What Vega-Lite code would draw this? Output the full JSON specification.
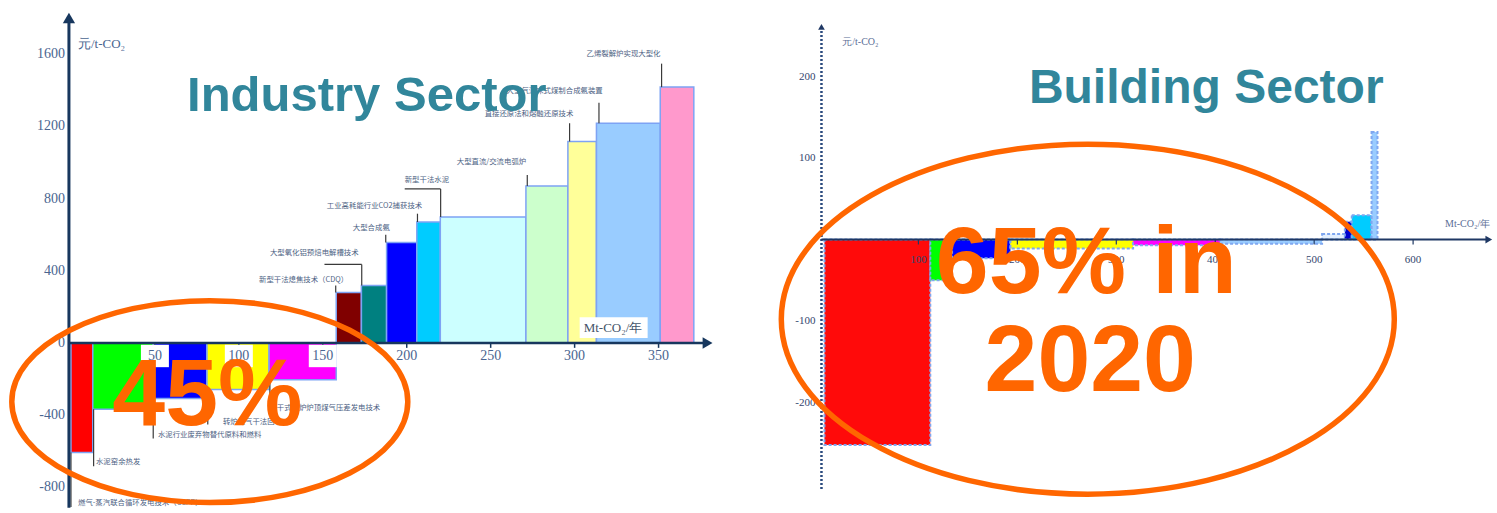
{
  "$schema": "https://vega.github.io/schema/vega-lite/v6.json",
  "width": 1497,
  "height": 513,
  "padding": 0,
  "autosize": {"type": "fit", "contains": "padding"},
  "background": "white",
  "config": {"view": {"stroke": null}},
  "datasets": {
    "ind_bars": [
      {"tech": "燃气-蒸汽联合循环发电技术（CCPP）", "x0": 0, "x1": 13, "cost": -606},
      {"tech": "水泥窑余热发电", "x0": 13, "x1": 49, "cost": -367},
      {"tech": "水泥行业废弃物替代原料和燃料", "x0": 49, "x1": 81, "cost": -307},
      {"tech": "转炉煤气干法回收", "x0": 81, "x1": 118, "cost": -257},
      {"tech": "干式高炉炉顶煤气压差发电技术", "x0": 118, "x1": 158, "cost": -204},
      {"tech": "新型干法熄焦技术（CDQ）", "x0": 158, "x1": 173, "cost": 279},
      {"tech": "大型氧化铝预焙电解槽技术", "x0": 173, "x1": 188, "cost": 318},
      {"tech": "大型合成氨", "x0": 188, "x1": 206, "cost": 556},
      {"tech": "工业高耗能行业CO2捕获技术", "x0": 206, "x1": 220, "cost": 670},
      {"tech": "新型干法水泥", "x0": 220, "x1": 271, "cost": 698},
      {"tech": "大型直流/交流电弧炉", "x0": 271, "x1": 296, "cost": 869},
      {"tech": "直接还原法和熔融还原技术", "x0": 296, "x1": 313, "cost": 1116},
      {"tech": "大型气流床式煤制合成氨装置", "x0": 313, "x1": 351, "cost": 1217},
      {"tech": "乙烯裂解炉实现大型化", "x0": 351, "x1": 371, "cost": 1417}
    ],
    "ind_labels": [
      {"label": "燃气-蒸汽联合循环发电技术（CCPP）", "lx": 4.2, "ly": -887},
      {"label": "水泥窑余热发", "lx": 14.9, "ly": -661},
      {"label": "水泥行业废弃物替代原料和燃料", "lx": 51.8, "ly": -507},
      {"label": "转炉煤气干法回收", "lx": 90.5, "ly": -435},
      {"label": "干式高炉炉顶煤气压差发电技术", "lx": 122.6, "ly": -358},
      {"label": "新型干法熄焦技术（CDQ）", "lx": 112, "ly": 347},
      {"label": "大型氧化铝预焙电解槽技术", "lx": 118.5, "ly": 496},
      {"label": "大型合成氨", "lx": 167.9, "ly": 639},
      {"label": "工业高耗能行业CO2捕获技术", "lx": 152.4, "ly": 760},
      {"label": "新型干法水泥", "lx": 198.8, "ly": 903},
      {"label": "大型直流/交流电弧炉", "lx": 229.8, "ly": 1004},
      {"label": "直接还原法和熔融还原技术", "lx": 246.4, "ly": 1267},
      {"label": "大型气流床式煤制合成氨装置", "lx": 259.5, "ly": 1395},
      {"label": "乙烯裂解炉实现大型化", "lx": 307.1, "ly": 1601}
    ],
    "ind_leaders": [
      {"xa": 0, "xb": 0, "ya": -606, "yb": -908},
      {"xa": 13.5, "xb": 13.5, "ya": -367, "yb": -683},
      {"xa": 49, "xb": 49, "ya": -307, "yb": -529},
      {"xa": 81.5, "xb": 81.5, "ya": -307, "yb": -451},
      {"xa": 118.5, "xb": 118.5, "ya": -204, "yb": -396},
      {"xa": 157.7, "xb": 157.7, "ya": 279, "yb": 319},
      {"xa": 151, "xb": 173.2, "ya": 435, "yb": 435},
      {"xa": 173.2, "xb": 173.2, "ya": 318, "yb": 435},
      {"xa": 187.5, "xb": 187.5, "ya": 556, "yb": 600},
      {"xa": 206.4, "xb": 206.4, "ya": 670, "yb": 716},
      {"xa": 198.8, "xb": 220.2, "ya": 853, "yb": 853},
      {"xa": 220.2, "xb": 220.2, "ya": 698, "yb": 853},
      {"xa": 271.8, "xb": 271.8, "ya": 869, "yb": 931},
      {"xa": 297, "xb": 297, "ya": 1116, "yb": 1217},
      {"xa": 314.5, "xb": 314.5, "ya": 1217, "yb": 1331},
      {"xa": 351.8, "xb": 351.8, "ya": 1417, "yb": 1547}
    ],
    "ind_xticks": [{"tick": 50}, {"tick": 100}, {"tick": 150}, {"tick": 200}, {"tick": 250}, {"tick": 300}, {"tick": 350}],
    "ind_yticks": [{"tick": 1600}, {"tick": 1200}, {"tick": 800}, {"tick": 400}, {"tick": 0}, {"tick": -400}, {"tick": -800}],
    "bld_bars": [
      {"id": "1", "x0": 5, "x1": 112, "cost": -252},
      {"id": "2", "x0": 112, "x1": 134, "cost": -50},
      {"id": "3", "x0": 134, "x1": 193, "cost": -23},
      {"id": "4", "x0": 193, "x1": 317, "cost": -11},
      {"id": "5", "x0": 317, "x1": 405, "cost": -7},
      {"id": "6", "x0": 405, "x1": 508, "cost": -5},
      {"id": "7", "x0": 508, "x1": 531, "cost": 7},
      {"id": "8", "x0": 531, "x1": 538, "cost": 22},
      {"id": "9", "x0": 538, "x1": 558, "cost": 30},
      {"id": "10", "x0": 558, "x1": 564, "cost": 132}
    ],
    "bld_xticks": [{"tick": 100}, {"tick": 200}, {"tick": 300}, {"tick": 400}, {"tick": 500}, {"tick": 600}],
    "bld_yticks": [{"tick": 200}, {"tick": 100}, {"tick": -100}, {"tick": -200}]
  },
  "resolve": {"scale": {"x": "independent", "y": "independent", "color": "independent"}},
  "layer": [
    {
      "layer": [
        {
          "data": {"name": "ind_bars"},
          "mark": {"type": "rect", "stroke": "#7EA3F4", "strokeWidth": 1.5},
          "encoding": {
            "x": {"field": "x0", "type": "quantitative", "scale": {"domain": [-41.667, 849.405], "nice": false, "zero": false}, "axis": null},
            "x2": {"field": "x1"},
            "y": {"field": "cost", "type": "quantitative", "scale": {"domain": [-925, 1899.5], "nice": false, "zero": false}, "axis": null},
            "y2": {"datum": 0},
            "color": {
              "field": "tech", "type": "nominal", "legend": null,
              "scale": {
                "domain": ["燃气-蒸汽联合循环发电技术（CCPP）", "水泥窑余热发电", "水泥行业废弃物替代原料和燃料", "转炉煤气干法回收", "干式高炉炉顶煤气压差发电技术", "新型干法熄焦技术（CDQ）", "大型氧化铝预焙电解槽技术", "大型合成氨", "工业高耗能行业CO2捕获技术", "新型干法水泥", "大型直流/交流电弧炉", "直接还原法和熔融还原技术", "大型气流床式煤制合成氨装置", "乙烯裂解炉实现大型化"],
                "range": ["#FF0000", "#00FF00", "#0000FF", "#FFFF00", "#FF00FF", "#800000", "#008080", "#0000FF", "#00CCFF", "#CCFFFF", "#CCFFCC", "#FFFF99", "#99CCFF", "#FF99CC"]
              }
            }
          }
        },
        {
          "data": {"name": "ind_leaders"},
          "mark": {"type": "rule", "color": "#3A3A3A", "strokeWidth": 1.2},
          "encoding": {
            "x": {"field": "xa", "type": "quantitative", "scale": {"domain": [-41.667, 849.405], "nice": false, "zero": false}, "axis": null},
            "x2": {"field": "xb"},
            "y": {"field": "ya", "type": "quantitative", "scale": {"domain": [-925, 1899.5], "nice": false, "zero": false}, "axis": null},
            "y2": {"field": "yb"}
          }
        },
        {
          "data": {"name": "ind_labels"},
          "mark": {"type": "text", "align": "left", "baseline": "middle", "font": "Noto Sans CJK SC", "fontSize": 7.4, "color": "#4D6283"},
          "encoding": {
            "x": {"field": "lx", "type": "quantitative", "scale": {"domain": [-41.667, 849.405], "nice": false, "zero": false}, "axis": null},
            "y": {"field": "ly", "type": "quantitative", "scale": {"domain": [-925, 1899.5], "nice": false, "zero": false}, "axis": null},
            "text": {"field": "label"}
          }
        },
        {
          "data": {"values": [{"x": -1.2, "ya": -912, "yb": 1790}]},
          "mark": {"type": "rule", "color": "#17375E", "strokeWidth": 3},
          "encoding": {
            "x": {"field": "x", "type": "quantitative", "scale": {"domain": [-41.667, 849.405], "nice": false, "zero": false}, "axis": null},
            "y": {"field": "ya", "type": "quantitative", "scale": {"domain": [-925, 1899.5], "nice": false, "zero": false}, "axis": null},
            "y2": {"field": "yb"}
          }
        },
        {
          "data": {"values": [{"x": -1.2, "y": 1800}]},
          "mark": {"type": "point", "shape": "triangle-up", "filled": true, "color": "#17375E", "size": 150, "opacity": 1},
          "encoding": {
            "x": {"field": "x", "type": "quantitative", "scale": {"domain": [-41.667, 849.405], "nice": false, "zero": false}, "axis": null},
            "y": {"field": "y", "type": "quantitative", "scale": {"domain": [-925, 1899.5], "nice": false, "zero": false}, "axis": null}
          }
        },
        {
          "data": {"values": [{"xa": -1.2, "xb": 378, "y": 0}]},
          "mark": {"type": "rule", "color": "#17375E", "strokeWidth": 2.5},
          "encoding": {
            "x": {"field": "xa", "type": "quantitative", "scale": {"domain": [-41.667, 849.405], "nice": false, "zero": false}, "axis": null},
            "x2": {"field": "xb"},
            "y": {"field": "y", "type": "quantitative", "scale": {"domain": [-925, 1899.5], "nice": false, "zero": false}, "axis": null}
          }
        },
        {
          "data": {"values": [{"x": 379.2, "y": 0}]},
          "mark": {"type": "point", "shape": "triangle-right", "filled": true, "color": "#17375E", "size": 130, "opacity": 1},
          "encoding": {
            "x": {"field": "x", "type": "quantitative", "scale": {"domain": [-41.667, 849.405], "nice": false, "zero": false}, "axis": null},
            "y": {"field": "y", "type": "quantitative", "scale": {"domain": [-925, 1899.5], "nice": false, "zero": false}, "axis": null}
          }
        },
        {
          "data": {"name": "ind_xticks"},
          "mark": {"type": "rule", "color": "#17375E", "strokeWidth": 1.5},
          "encoding": {
            "x": {"field": "tick", "type": "quantitative", "scale": {"domain": [-41.667, 849.405], "nice": false, "zero": false}, "axis": null},
            "y": {"datum": 0, "type": "quantitative", "scale": {"domain": [-925, 1899.5], "nice": false, "zero": false}, "axis": null},
            "y2": {"datum": -27}
          }
        },
        {
          "data": {"name": "ind_xticks"},
          "transform": [{"filter": "datum.tick <= 150"}],
          "mark": {"type": "point", "shape": "M-1,-0.8H1V0.8H-1Z", "filled": true, "color": "white", "size": 784, "opacity": 1},
          "encoding": {
            "x": {"field": "tick", "type": "quantitative", "scale": {"domain": [-41.667, 849.405], "nice": false, "zero": false}, "axis": null},
            "y": {"datum": -72, "type": "quantitative", "scale": {"domain": [-925, 1899.5], "nice": false, "zero": false}, "axis": null}
          }
        },
        {
          "data": {"name": "ind_xticks"},
          "mark": {"type": "text", "align": "center", "baseline": "middle", "font": "Liberation Serif", "fontSize": 14, "color": "#4A6590"},
          "encoding": {
            "x": {"field": "tick", "type": "quantitative", "scale": {"domain": [-41.667, 849.405], "nice": false, "zero": false}, "axis": null},
            "y": {"datum": -72, "type": "quantitative", "scale": {"domain": [-925, 1899.5], "nice": false, "zero": false}, "axis": null},
            "text": {"field": "tick"}
          }
        },
        {
          "data": {"name": "ind_yticks"},
          "mark": {"type": "text", "align": "right", "baseline": "middle", "font": "Liberation Serif", "fontSize": 14, "color": "#4A6590"},
          "encoding": {
            "x": {"datum": -3.6, "type": "quantitative", "scale": {"domain": [-41.667, 849.405], "nice": false, "zero": false}, "axis": null},
            "y": {"field": "tick", "type": "quantitative", "scale": {"domain": [-925, 1899.5], "nice": false, "zero": false}, "axis": null},
            "text": {"field": "tick"}
          }
        },
        {
          "data": {"values": [{"x": 4.2, "y": 1657, "label": "元/t-CO₂"}]},
          "mark": {"type": "text", "align": "left", "baseline": "middle", "font": "Liberation Serif", "fontSize": 13, "color": "#4A6590"},
          "encoding": {
            "x": {"field": "x", "type": "quantitative", "scale": {"domain": [-41.667, 849.405], "nice": false, "zero": false}, "axis": null},
            "y": {"field": "y", "type": "quantitative", "scale": {"domain": [-925, 1899.5], "nice": false, "zero": false}, "axis": null},
            "text": {"field": "label"}
          }
        },
        {
          "data": {"values": [{"xa": 303, "xb": 343.5, "ya": 27.5, "yb": 143}]},
          "mark": {"type": "rect", "color": "white"},
          "encoding": {
            "x": {"field": "xa", "type": "quantitative", "scale": {"domain": [-41.667, 849.405], "nice": false, "zero": false}, "axis": null},
            "x2": {"field": "xb"},
            "y": {"field": "ya", "type": "quantitative", "scale": {"domain": [-925, 1899.5], "nice": false, "zero": false}, "axis": null},
            "y2": {"field": "yb"}
          }
        },
        {
          "data": {"values": [{"x": 305.4, "y": 82.6, "label": "Mt-CO₂/年"}]},
          "mark": {"type": "text", "align": "left", "baseline": "middle", "font": "Liberation Serif", "fontSize": 13, "color": "#44546A"},
          "encoding": {
            "x": {"field": "x", "type": "quantitative", "scale": {"domain": [-41.667, 849.405], "nice": false, "zero": false}, "axis": null},
            "y": {"field": "y", "type": "quantitative", "scale": {"domain": [-925, 1899.5], "nice": false, "zero": false}, "axis": null},
            "text": {"field": "label"}
          }
        },
        {
          "data": {"values": [{"x": 176.2, "y": 1282.9, "label": "Industry  Sector"}]},
          "mark": {"type": "text", "align": "center", "baseline": "alphabetic", "font": "Liberation Sans", "fontWeight": "bold", "fontSize": 49, "color": "#31869B"},
          "encoding": {
            "x": {"field": "x", "type": "quantitative", "scale": {"domain": [-41.667, 849.405], "nice": false, "zero": false}, "axis": null},
            "y": {"field": "y", "type": "quantitative", "scale": {"domain": [-925, 1899.5], "nice": false, "zero": false}, "axis": null},
            "text": {"field": "label"}
          }
        },
        {
          "data": {"values": [{"x": 82.7, "y": -324.8}]},
          "mark": {"type": "point", "shape": "M -1 0 A 1 0.51 0 1 1 1 0 A 1 0.51 0 1 1 -1 0 Z", "filled": false, "stroke": "#FF6600", "strokeWidth": 5.5, "size": 156816, "opacity": 1},
          "encoding": {
            "x": {"field": "x", "type": "quantitative", "scale": {"domain": [-41.667, 849.405], "nice": false, "zero": false}, "axis": null},
            "y": {"field": "y", "type": "quantitative", "scale": {"domain": [-925, 1899.5], "nice": false, "zero": false}, "axis": null}
          }
        },
        {
          "data": {"values": [{"x": 81.25, "y": -451.5, "label": "45%"}]},
          "mark": {"type": "text", "align": "center", "baseline": "alphabetic", "font": "Liberation Sans", "fontWeight": "bold", "fontSize": 95, "color": "#FF6600"},
          "encoding": {
            "x": {"field": "x", "type": "quantitative", "scale": {"domain": [-41.667, 849.405], "nice": false, "zero": false}, "axis": null},
            "y": {"field": "y", "type": "quantitative", "scale": {"domain": [-925, 1899.5], "nice": false, "zero": false}, "axis": null},
            "text": {"field": "label"}
          }
        }
      ]
    },
    {
      "layer": [
        {
          "data": {"name": "bld_bars"},
          "mark": {"type": "rect", "stroke": "#7FA7F0", "strokeWidth": 2, "strokeDash": [3, 2]},
          "encoding": {
            "x": {"field": "x0", "type": "quantitative", "scale": {"domain": [-827.3, 684.8], "nice": false, "zero": false}, "axis": null},
            "x2": {"field": "x1"},
            "y": {"field": "cost", "type": "quantitative", "scale": {"domain": [-331.7, 293.9], "nice": false, "zero": false}, "axis": null},
            "y2": {"datum": 0},
            "color": {
              "field": "id", "type": "nominal", "legend": null,
              "scale": {
                "domain": ["1", "2", "3", "4", "5", "6", "7", "8", "9", "10"],
                "range": ["#FF0A0A", "#00FF00", "#0000FF", "#FFFF00", "#FF00FF", "#99CCFF", "#E4F0FF", "#0000CC", "#00CCFF", "#99CCFF"]
              }
            }
          }
        },
        {
          "data": {"values": [{"x": 2, "ya": -306, "yb": 258}]},
          "mark": {"type": "rule", "color": "#2B4A7E", "strokeWidth": 2.5, "strokeDash": [2, 2]},
          "encoding": {
            "x": {"field": "x", "type": "quantitative", "scale": {"domain": [-827.3, 684.8], "nice": false, "zero": false}, "axis": null},
            "y": {"field": "ya", "type": "quantitative", "scale": {"domain": [-331.7, 293.9], "nice": false, "zero": false}, "axis": null},
            "y2": {"field": "yb"}
          }
        },
        {
          "data": {"values": [{"x": 2, "y": 261}]},
          "mark": {"type": "point", "shape": "triangle-up", "filled": true, "color": "#1F3864", "size": 45, "opacity": 1},
          "encoding": {
            "x": {"field": "x", "type": "quantitative", "scale": {"domain": [-827.3, 684.8], "nice": false, "zero": false}, "axis": null},
            "y": {"field": "y", "type": "quantitative", "scale": {"domain": [-331.7, 293.9], "nice": false, "zero": false}, "axis": null}
          }
        },
        {
          "data": {"values": [{"xa": 2, "xb": 676, "y": 0}]},
          "mark": {"type": "rule", "color": "#1F3864", "strokeWidth": 2},
          "encoding": {
            "x": {"field": "xa", "type": "quantitative", "scale": {"domain": [-827.3, 684.8], "nice": false, "zero": false}, "axis": null},
            "x2": {"field": "xb"},
            "y": {"field": "y", "type": "quantitative", "scale": {"domain": [-331.7, 293.9], "nice": false, "zero": false}, "axis": null}
          }
        },
        {
          "data": {"values": [{"x": 676.5, "y": 0}]},
          "mark": {"type": "point", "shape": "triangle-right", "filled": true, "color": "#1F3864", "size": 60, "opacity": 1},
          "encoding": {
            "x": {"field": "x", "type": "quantitative", "scale": {"domain": [-827.3, 684.8], "nice": false, "zero": false}, "axis": null},
            "y": {"field": "y", "type": "quantitative", "scale": {"domain": [-331.7, 293.9], "nice": false, "zero": false}, "axis": null}
          }
        },
        {
          "data": {"name": "bld_xticks"},
          "mark": {"type": "rule", "color": "#1F3864", "strokeWidth": 1.2},
          "encoding": {
            "x": {"field": "tick", "type": "quantitative", "scale": {"domain": [-827.3, 684.8], "nice": false, "zero": false}, "axis": null},
            "y": {"datum": 0, "type": "quantitative", "scale": {"domain": [-331.7, 293.9], "nice": false, "zero": false}, "axis": null},
            "y2": {"datum": -6}
          }
        },
        {
          "data": {"name": "bld_xticks"},
          "mark": {"type": "text", "align": "center", "baseline": "middle", "font": "Liberation Serif", "fontSize": 11, "color": "#33466E"},
          "encoding": {
            "x": {"field": "tick", "type": "quantitative", "scale": {"domain": [-827.3, 684.8], "nice": false, "zero": false}, "axis": null},
            "y": {"datum": -25.6, "type": "quantitative", "scale": {"domain": [-331.7, 293.9], "nice": false, "zero": false}, "axis": null},
            "text": {"field": "tick"}
          }
        },
        {
          "data": {"name": "bld_yticks"},
          "mark": {"type": "text", "align": "right", "baseline": "middle", "font": "Liberation Serif", "fontSize": 11, "color": "#33466E"},
          "encoding": {
            "x": {"datum": -4, "type": "quantitative", "scale": {"domain": [-827.3, 684.8], "nice": false, "zero": false}, "axis": null},
            "y": {"field": "tick", "type": "quantitative", "scale": {"domain": [-331.7, 293.9], "nice": false, "zero": false}, "axis": null},
            "text": {"field": "tick"}
          }
        },
        {
          "data": {"values": [{"x": 23, "y": 242.7, "label": "元/t-CO₂"}]},
          "mark": {"type": "text", "align": "left", "baseline": "middle", "font": "Liberation Serif", "fontSize": 10, "color": "#5A6E96"},
          "encoding": {
            "x": {"field": "x", "type": "quantitative", "scale": {"domain": [-827.3, 684.8], "nice": false, "zero": false}, "axis": null},
            "y": {"field": "y", "type": "quantitative", "scale": {"domain": [-331.7, 293.9], "nice": false, "zero": false}, "axis": null},
            "text": {"field": "label"}
          }
        },
        {
          "data": {"values": [{"x": 678, "y": 19.5, "label": "Mt-CO₂/年"}]},
          "mark": {"type": "text", "align": "right", "baseline": "middle", "font": "Liberation Serif", "fontSize": 10, "color": "#5A6E96"},
          "encoding": {
            "x": {"field": "x", "type": "quantitative", "scale": {"domain": [-827.3, 684.8], "nice": false, "zero": false}, "axis": null},
            "y": {"field": "y", "type": "quantitative", "scale": {"domain": [-331.7, 293.9], "nice": false, "zero": false}, "axis": null},
            "text": {"field": "label"}
          }
        },
        {
          "data": {"values": [{"x": 390.9, "y": 167.1, "label": "Building  Sector"}]},
          "mark": {"type": "text", "align": "center", "baseline": "alphabetic", "font": "Liberation Sans", "fontWeight": "bold", "fontSize": 48, "color": "#31869B"},
          "encoding": {
            "x": {"field": "x", "type": "quantitative", "scale": {"domain": [-827.3, 684.8], "nice": false, "zero": false}, "axis": null},
            "y": {"field": "y", "type": "quantitative", "scale": {"domain": [-331.7, 293.9], "nice": false, "zero": false}, "axis": null},
            "text": {"field": "label"}
          }
        },
        {
          "data": {"values": [{"x": 271.2, "y": -97.6}]},
          "mark": {"type": "point", "shape": "M -1 0 A 1 0.571 0 1 1 1 0 A 1 0.571 0 1 1 -1 0 Z", "filled": false, "stroke": "#FF6600", "strokeWidth": 5.5, "size": 375769, "opacity": 1},
          "encoding": {
            "x": {"field": "x", "type": "quantitative", "scale": {"domain": [-827.3, 684.8], "nice": false, "zero": false}, "axis": null},
            "y": {"field": "y", "type": "quantitative", "scale": {"domain": [-331.7, 293.9], "nice": false, "zero": false}, "axis": null}
          }
        },
        {
          "data": {"values": [{"x": 269.7, "y": -65.9, "label": "65% in"}, {"x": 273.7, "y": -185.4, "label": "2020"}]},
          "mark": {"type": "text", "align": "center", "baseline": "alphabetic", "font": "Liberation Sans", "fontWeight": "bold", "fontSize": 95, "color": "#FF6600"},
          "encoding": {
            "x": {"field": "x", "type": "quantitative", "scale": {"domain": [-827.3, 684.8], "nice": false, "zero": false}, "axis": null},
            "y": {"field": "y", "type": "quantitative", "scale": {"domain": [-331.7, 293.9], "nice": false, "zero": false}, "axis": null},
            "text": {"field": "label"}
          }
        }
      ]
    }
  ]
}
